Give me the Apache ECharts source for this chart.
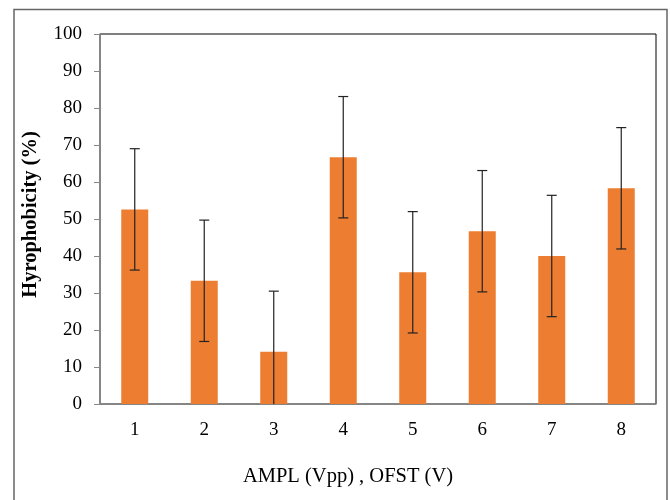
<!DOCTYPE html>
<html style="height: 100%">
<head>
    <meta charset="utf-8">
    <title>Hyrophobicity</title>
    <script src="https://cdn.jsdelivr.net/npm/echarts@6/dist/echarts.min.js"></script>
</head>
<body style="height: 100%; margin: 0; background: #fff">
    <div id="main" style="width: 670px; height: 500px"></div>
    <script>
        // data
        var categories = ['1', '2', '3', '4', '5', '6', '7', '8'];
        var values = [52.6, 33.3, 14.1, 66.7, 35.6, 46.7, 40.0, 58.3];
        var errors = [16.4, 16.4, 16.4, 16.4, 16.4, 16.4, 16.4, 16.4];

        var serif = '"Liberation Serif", "DejaVu Serif", serif';
        var errData = values.map(function (v, i) {
            return [i, v - errors[i], v + errors[i]];
        });

        var chart = echarts.init(document.getElementById('main'));
        chart.setOption({
            animation: false,
            graphic: [{
                type: 'rect',
                shape: { x: 14, y: 9.5, width: 653, height: 500 },
                style: { fill: 'none', stroke: '#666', lineWidth: 1.5 },
                silent: true
            }],
            grid: { left: 100, right: 14, top: 34, bottom: 96, show: true, borderColor: '#000', borderWidth: 1 },
            xAxis: {
                type: 'category',
                data: categories,
                name: 'AMPL (Vpp) , OFST (V)',
                nameLocation: 'middle',
                nameGap: 62,
                nameTextStyle: { fontFamily: serif, fontSize: 20.5, color: '#000', padding: [0, 60, 0, 0] },
                axisLine: { lineStyle: { color: '#888', width: 1.5 } },
                axisTick: { lineStyle: { color: '#888' }, length: 6 },
                axisLabel: { fontFamily: serif, fontSize: 19, color: '#000', margin: 17 }
            },
            yAxis: {
                type: 'value',
                min: 0,
                max: 100,
                interval: 10,
                name: 'Hyrophobicity (%)',
                nameLocation: 'middle',
                nameGap: 59,
                nameTextStyle: { fontFamily: serif, fontSize: 20.5, fontWeight: 'bold', color: '#000', padding: [0, 0, 0, 9] },
                axisLine: { show: true, lineStyle: { color: '#888', width: 1.5 } },
                axisTick: { show: true, lineStyle: { color: '#888' }, length: 6 },
                splitLine: { show: false },
                axisLabel: { fontFamily: serif, fontSize: 19, color: '#000', margin: 18 }
            },
            series: [
                {
                    type: 'bar',
                    data: values,
                    barWidth: 27,
                    itemStyle: { color: '#ED7D31' }
                },
                {
                    type: 'custom',
                    data: errData,
                    clip: true,
                    z: 5,
                    renderItem: function (params, api) {
                        var x = api.value(0);
                        var lo = api.coord([x, api.value(1)]);
                        var hi = api.coord([x, api.value(2)]);
                        var cap = 5;
                        var st = { stroke: '#222', lineWidth: 1.2 };
                        return {
                            type: 'group',
                            children: [
                                { type: 'line', shape: { x1: hi[0], y1: hi[1], x2: lo[0], y2: lo[1] }, style: st },
                                { type: 'line', shape: { x1: hi[0] - cap, y1: hi[1], x2: hi[0] + cap, y2: hi[1] }, style: st },
                                { type: 'line', shape: { x1: lo[0] - cap, y1: lo[1], x2: lo[0] + cap, y2: lo[1] }, style: st }
                            ]
                        };
                    }
                }
            ]
        });
    </script>
</body>
</html>
